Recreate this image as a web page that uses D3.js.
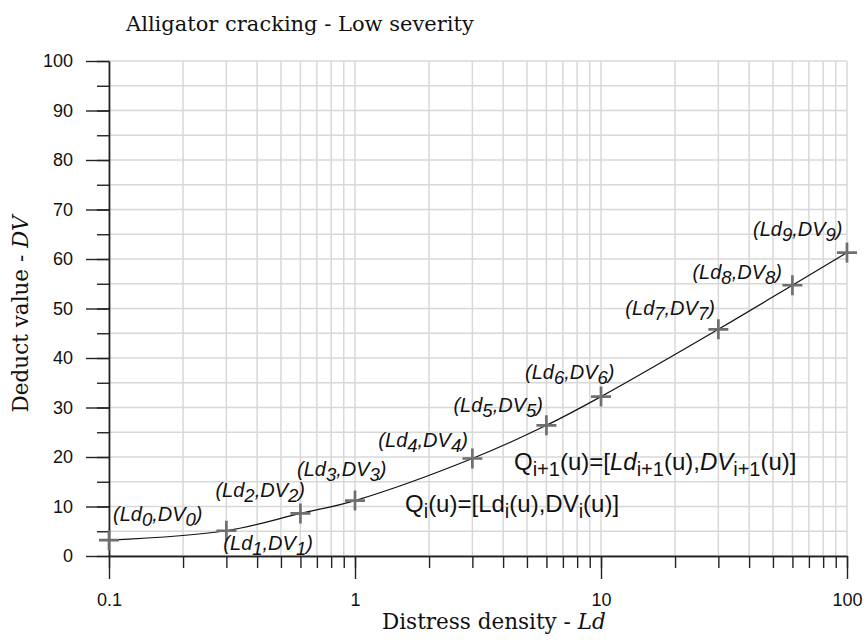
<!DOCTYPE html>
<html>
<head>
<meta charset="utf-8">
<script src="https://cdn.jsdelivr.net/npm/d3@7"></script>
<style>
  body { margin: 0; background: #fff; }
  svg { display: block; }
</style>
</head>
<body>
<div id="chart"></div>
<script>
// Data
const densities = [0.1, 0.3, 0.6, 1, 3, 6, 10, 30, 60, 100];
const deductValues = [3.2, 5.1, 8.6, 11.2, 19.7, 26.4, 32.2, 45.8, 54.7, 61.3];
const xTickLabels = ['0.1', '1', '10', '100'];
const yTickValues = [0, 10, 20, 30, 40, 50, 60, 70, 80, 90, 100];

// label offsets (px) from each marker
const labelOffsets = [
    [4, -19], [-3, 19], [-85, -16], [-58, -25], [-94, -11],
    [-93, -13], [-76, -18], [-93, -14], [-100, -6], [-94, -17]
];

const width = 865, height = 643;
const margin = { left: 109, right: 18, top: 61, bottom: 87 };

const svg = d3.select('#chart').append('svg')
    .attr('width', width)
    .attr('height', height);

const x = d3.scaleLog()
    .domain([0.1, 100])
    .range([margin.left, width - margin.right]);

const y = d3.scaleLinear()
    .domain([0, 100])
    .range([height - margin.bottom, margin.top]);

// minor log ticks 0.1 .. 100
const xMinor = [];
[0.1, 1, 10].forEach(dec => {
    for (let k = 1; k < 10; k++) xMinor.push(dec * k);
});
xMinor.push(100);
const yMinor = d3.range(0, 101, 5);

// Grid
const grid = svg.append('g').attr('stroke', '#d8d8d8').attr('stroke-width', 1.5);
grid.selectAll('.vg')
    .data(xMinor)
    .join('line')
    .attr('x1', d => x(d)).attr('x2', d => x(d))
    .attr('y1', y(0)).attr('y2', y(100));
grid.selectAll('.hg')
    .data(yMinor)
    .join('line')
    .attr('x1', x(0.1)).attr('x2', x(100))
    .attr('y1', d => y(d)).attr('y2', d => y(d));

// Axes
const axisColor = '#222';
const tickFont = '"Liberation Sans", Arial, sans-serif';

function styleAxis(g) {
    g.selectAll('path, line').attr('stroke', axisColor).attr('stroke-width', 1.4);
    g.selectAll('text').attr('fill', '#111').style('font-family', tickFont).style('font-size', '18px');
}

svg.append('g')
    .attr('transform', `translate(0,${y(0)})`)
    .call(d3.axisBottom(x).tickValues(xMinor).tickSize(12).tickSizeOuter(0).tickFormat(''))
    .call(styleAxis);

svg.append('g')
    .attr('transform', `translate(0,${y(0)})`)
    .call(d3.axisBottom(x).tickValues([0.1, 1, 10, 100]).tickSize(23).tickSizeOuter(0)
        .tickPadding(14).tickFormat((d, i) => xTickLabels[i]))
    .call(styleAxis);

svg.append('g')
    .attr('transform', `translate(${x(0.1)},0)`)
    .call(d3.axisLeft(y).tickValues(yMinor).tickSize(12).tickSizeOuter(0).tickFormat(''))
    .call(styleAxis);

svg.append('g')
    .attr('transform', `translate(${x(0.1)},0)`)
    .call(d3.axisLeft(y).tickValues(yTickValues).tickSize(23).tickSizeOuter(0).tickPadding(13))
    .call(styleAxis);

// Curve through the points
const points = densities.map((d, i) => ({ ld: d, dv: deductValues[i], i }));
const line = d3.line()
    .x(d => x(d.ld))
    .y(d => y(d.dv))
    .curve(d3.curveCatmullRom.alpha(0.5));

svg.append('path')
    .datum(points)
    .attr('d', line)
    .attr('fill', 'none')
    .attr('stroke', '#111')
    .attr('stroke-width', 1.2);

// Plus markers
const arm = 10;
const marks = svg.append('g').attr('stroke', '#6f6f6f').attr('stroke-width', 2.7);
marks.selectAll('path')
    .data(points)
    .join('path')
    .attr('d', d => {
        const px = x(d.ld), py = y(d.dv);
        return `M${px - arm},${py}H${px + arm}M${px},${py - arm}V${py + arm}`;
    });

// Point labels (Ld_i, DV_i)
const labelFont = '"Liberation Sans", Arial, sans-serif';
const labels = svg.append('g')
    .style('font-family', labelFont)
    .style('font-style', 'italic')
    .style('font-size', '20px')
    .attr('fill', '#111');

points.forEach(p => {
    const [dx, dy] = labelOffsets[p.i];
    const t = labels.append('text')
        .attr('x', x(p.ld) + dx)
        .attr('y', y(p.dv) + dy);
    t.append('tspan').text('(Ld');
    t.append('tspan').attr('dy', 5).style('font-size', '18.5px').text(p.i);
    t.append('tspan').attr('dy', -5).text(',DV');
    t.append('tspan').attr('dy', 5).style('font-size', '18.5px').text(p.i);
    t.append('tspan').attr('dy', -5).text(')');
});

// Formulas
function formula(xp, yp, sub, italicVars) {
    const t = svg.append('text')
        .attr('x', xp).attr('y', yp)
        .attr('fill', '#111')
        .style('font-family', labelFont)
        .style('font-size', '24px');
    const parts = [
        ['Q', false], ['sub'], ['(u)=[', false], ['Ld', italicVars], ['sub'],
        ['(u),', false], ['DV', italicVars], ['sub'], ['(u)]', false]
    ];
    let lowered = false;
    parts.forEach(pt => {
        if (pt[0] === 'sub') {
            t.append('tspan').attr('dy', 6).style('font-size', '20px').style('font-style', 'normal').text(sub);
            lowered = true;
        } else {
            const s = t.append('tspan').text(pt[0]).style('font-style', pt[1] ? 'italic' : 'normal');
            if (lowered) { s.attr('dy', -6); lowered = false; }
        }
    });
}
formula(514, 470, 'i+1', true);
formula(405, 512, 'i', false);

// Titles
const serif = '"DejaVu Serif", "Liberation Serif", serif';
svg.append('text')
    .attr('x', 126).attr('y', 31)
    .attr('fill', '#111')
    .style('font-family', serif).style('font-size', '21px')
    .text('Alligator cracking - Low severity');

const xl = svg.append('text')
    .attr('x', 382).attr('y', 629)
    .attr('fill', '#111')
    .style('font-family', serif).style('font-size', '21.5px');
xl.append('tspan').text('Distress density - ');
xl.append('tspan').style('font-style', 'italic').text('Ld');

const yl = svg.append('text')
    .attr('transform', 'translate(28,314) rotate(-90)')
    .attr('text-anchor', 'middle')
    .attr('fill', '#111')
    .style('font-family', serif).style('font-size', '21.5px');
yl.append('tspan').text('Deduct value - ');
yl.append('tspan').style('font-style', 'italic').text('DV');
</script>
</body>
</html>
